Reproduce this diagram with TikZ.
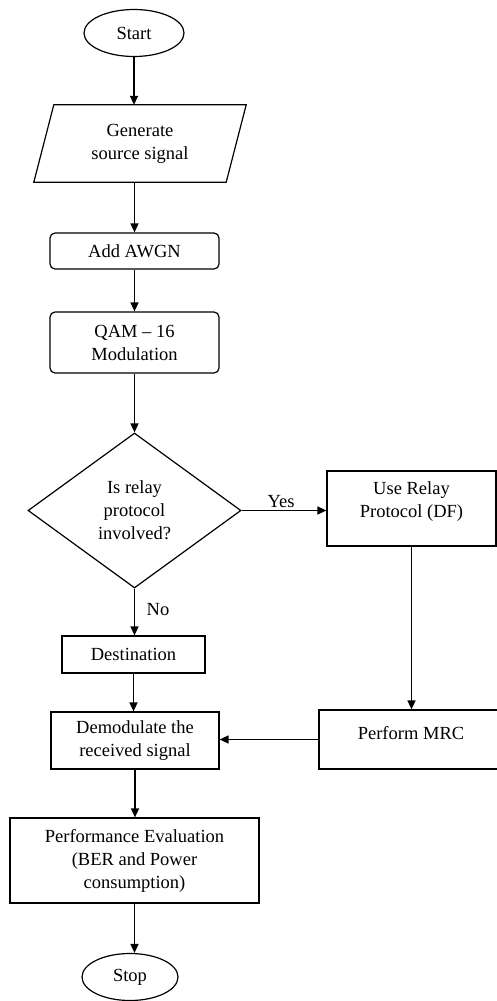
\documentclass[tikz,border=0pt]{standalone}
\usepackage{fontspec}
\setmainfont{Liberation Serif}
\usetikzlibrary{shapes.geometric,arrows.meta}
\newcommand{\liftup}[2]{\raisebox{#1}[\height][\depth]{#2}}
\begin{document}
\begin{tikzpicture}[x=1pt,y=-1pt,
  every node/.style={font=\fontsize{18.5}{23}\selectfont, inner sep=0pt},
  box/.style={draw, line width=1.2pt, align=center},
  rbox/.style={box, rounded corners=5pt},
  term/.style={draw, line width=1.2pt, ellipse},
  dia/.style={draw, line width=1.2pt, diamond, align=center},
  lbl/.style={},
  conn/.style={line width=1.5pt, -{Triangle[length=9pt,width=8pt]}}]
\clip (0,0) rectangle (497,1001);
\useasboundingbox (0,0) rectangle (497,1001);

\node[term, minimum width=100pt, minimum height=47pt] (start) at (134,33) {Start};
\node[align=center, minimum width=192pt, minimum height=77pt] (gen) at (140,143.5) {Generate\\source signal};
\draw[line width=1.2pt] ([xshift=10pt]gen.north west) -- ([xshift=10pt]gen.north east)
  -- ([xshift=-10pt]gen.south east) -- ([xshift=-10pt]gen.south west) -- cycle;
\node[rbox, minimum width=169pt, minimum height=36pt] (add) at (134.5,251) {Add AWGN};
\node[rbox, minimum width=169pt, minimum height=61pt] (qam) at (134.5,342.5) {QAM -- 16\\Modulation};
\node[dia, minimum width=213pt, minimum height=155pt] (dec) at (134.5,510.5) {Is relay\\protocol\\involved?};
\node[box, minimum width=169pt, minimum height=75pt] (relay) at (411.5,508.5)
  {\liftup{7pt}{\begin{tabular}{@{}c@{}}Use Relay\\Protocol (DF)\end{tabular}}};
\node[box, minimum width=143pt, minimum height=37pt] (dest) at (133.5,654.5) {Destination};
\node[box, minimum width=168pt, minimum height=57pt] (demod) at (135,740.5) {Demodulate the\\received signal};
\node[box, minimum width=184pt, minimum height=59pt] (mrc) at (411,739.5) {\liftup{6pt}{Perform MRC}};
\node[box, minimum width=249pt, minimum height=85pt] (perf) at (134.5,860.5) {Performance Evaluation\\(BER and Power\\consumption)};
\node[term, minimum width=96pt, minimum height=47pt] (stop) at (130,977) {Stop};

\node[lbl] (yes) at (281,502) {Yes};
\node[lbl] (no) at (158,610) {No};

\draw[conn] (start.south) -- (start.south |- gen.north);
\draw[conn] (add.north |- gen.south) -- (add.north);
\draw[conn] (add.south) -- (qam.north);
\draw[conn] (qam.south) -- (dec.north);
\draw[conn] (dec.east) -- (dec.east -| relay.west);
\draw[conn] (dec.south) -- (dec.south |- dest.north);
\draw[conn] (dest.south) -- (dest.south |- demod.north);
\draw[conn] (relay.south) -- (relay.south |- mrc.north);
\draw[conn] (mrc.west) -- (mrc.west -| demod.east);
\draw[conn] (demod.south) -- (demod.south |- perf.north);
\draw[conn] (perf.south) -- (perf.south |- stop.north);
\end{tikzpicture}
\end{document}
